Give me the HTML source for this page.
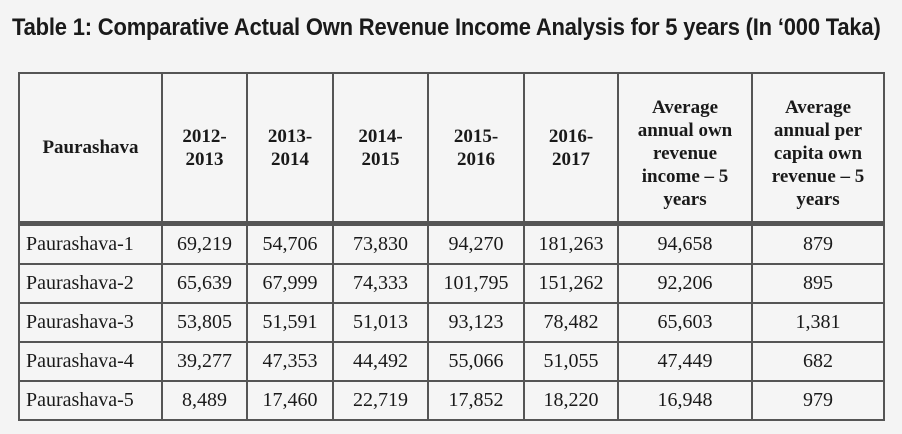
<!DOCTYPE html>
<html><head><style>
html,body{margin:0;padding:0;background:#f4f4f4;width:902px;height:434px;overflow:hidden}
.t{position:absolute;left:12px;top:14px;font:bold 24px "Liberation Sans",sans-serif;color:#1a1a1a;white-space:nowrap;transform-origin:0 0;transform:scaleX(0.915);letter-spacing:-0.2px}
table{position:absolute;left:18px;top:72px;border-collapse:collapse;font-family:"Liberation Serif",serif;color:#1a1a1a;table-layout:fixed}
td{border:2px solid #555;text-align:center;font-size:20px;height:37.1px;padding:0;background:#f5f5f5}
th{border:2px solid #555;font-size:19px;font-weight:bold;line-height:23px;padding:0;height:135px;background:#f5f5f5;overflow:hidden}
tr.h th{border-bottom:5px solid #555}
td.l{text-align:left;padding-left:6px}
</style></head><body>
<div class="t">Table 1: Comparative Actual Own Revenue Income Analysis for 5 years (In ‘000 Taka)</div>
<table>
<colgroup><col style="width:143px"><col style="width:85px"><col style="width:86px"><col style="width:95px"><col style="width:96px"><col style="width:94px"><col style="width:134px"><col style="width:132px"></colgroup>
<tr class="h"><th>Paurashava</th><th>2012-<br>2013</th><th>2013-<br>2014</th><th>2014-<br>2015</th><th>2015-<br>2016</th><th>2016-<br>2017</th><th style="padding-top:12px">Average<br>annual own<br>revenue<br>income – 5<br>years</th><th style="padding-top:12px">Average<br>annual per<br>capita own<br>revenue – 5<br>years</th></tr>
<tr><td class="l">Paurashava-1</td><td>69,219</td><td>54,706</td><td>73,830</td><td>94,270</td><td>181,263</td><td>94,658</td><td>879</td></tr>
<tr><td class="l">Paurashava-2</td><td>65,639</td><td>67,999</td><td>74,333</td><td>101,795</td><td>151,262</td><td>92,206</td><td>895</td></tr>
<tr><td class="l">Paurashava-3</td><td>53,805</td><td>51,591</td><td>51,013</td><td>93,123</td><td>78,482</td><td>65,603</td><td>1,381</td></tr>
<tr><td class="l">Paurashava-4</td><td>39,277</td><td>47,353</td><td>44,492</td><td>55,066</td><td>51,055</td><td>47,449</td><td>682</td></tr>
<tr><td class="l">Paurashava-5</td><td>8,489</td><td>17,460</td><td>22,719</td><td>17,852</td><td>18,220</td><td>16,948</td><td>979</td></tr>
</table>
</body></html>
